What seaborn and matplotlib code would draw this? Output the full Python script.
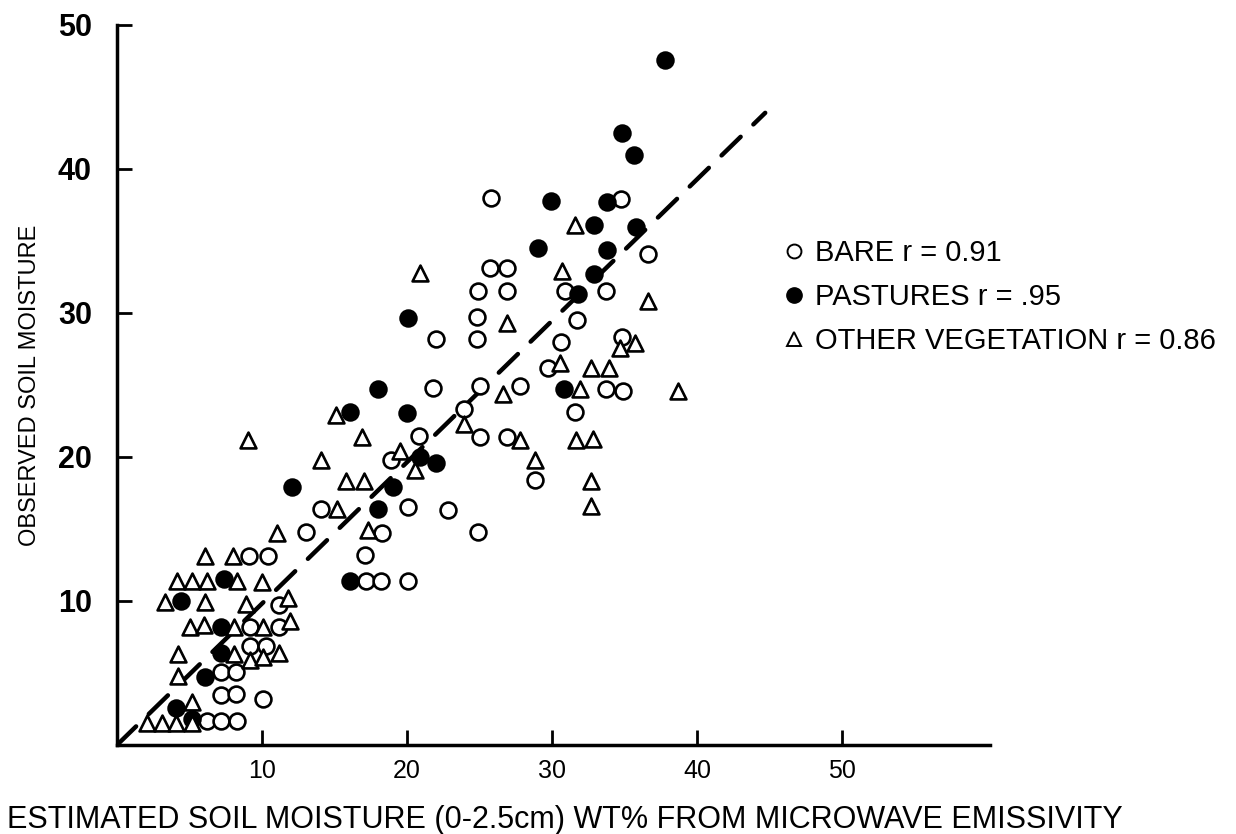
import matplotlib
matplotlib.use("Agg")
import matplotlib.pyplot as plt
import seaborn as sns
import pandas as pd
from matplotlib.lines import Line2D

# ---- data ----
bare_x = [13.0, 9.1, 10.4, 11.2, 9.2, 11.2, 9.2, 10.25, 7.15, 8.2, 7.15, 8.2, 10.1, 6.2, 7.2, 8.25,
          18.9, 14.1, 18.25, 17.1, 17.2, 18.2, 20.1, 21.8, 25.0, 27.8, 23.9, 20.8, 25.0, 26.9,
          20.1, 22.85, 24.9, 25.8, 25.7, 26.9, 24.9, 26.9, 30.9, 33.7, 24.8, 31.75, 22.0, 24.8,
          30.6, 34.8, 29.7, 33.7, 34.9, 31.6, 28.8, 36.65, 34.75]
bare_y = [14.8, 13.1, 13.1, 9.7, 8.2, 8.2, 6.9, 6.9, 5.05, 5.05, 3.45, 3.55, 3.2, 1.7, 1.7, 1.7,
          19.8, 16.4, 14.7, 13.2, 11.4, 11.4, 11.4, 24.8, 24.9, 24.9, 23.3, 21.45, 21.4, 21.4,
          16.55, 16.3, 14.8, 38.0, 33.1, 33.1, 31.5, 31.5, 31.5, 31.5, 29.7, 29.5, 28.2, 28.2,
          28.0, 28.3, 26.2, 24.7, 24.6, 23.1, 18.4, 34.1, 37.9]

past_x = [7.4, 4.4, 7.2, 7.15, 6.1, 4.07, 5.15, 18.0, 16.1, 12.05, 18.0, 19.05, 16.1, 20.0, 20.9,
          22.0, 20.1, 29.0, 33.8, 32.9, 31.8, 30.85, 37.8, 34.8, 35.65, 29.9, 33.8, 32.9, 35.8]
past_y = [11.5, 10.0, 8.2, 6.4, 4.7, 2.6, 1.8, 24.7, 23.1, 17.9, 16.4, 17.9, 11.4, 23.05, 20.0,
          19.6, 29.65, 34.5, 34.4, 32.7, 31.3, 24.7, 47.6, 42.5, 41.0, 37.75, 37.7, 36.1, 36.0]

veg_x = [11.0, 6.1, 8.0, 4.16, 5.2, 6.2, 8.3, 10.0, 3.3, 6.1, 8.9, 11.8, 5.0, 6.0, 8.1, 10.1, 11.9,
         4.2, 8.1, 9.2, 10.1, 11.2, 4.2, 5.2, 2.05, 3.1, 4.1, 5.2, 9.0, 15.1, 16.9, 14.05, 15.8,
         17.0, 15.15, 17.3, 19.5, 20.55, 23.9, 26.6, 27.8, 20.9, 30.7, 36.6, 26.9, 34.7, 35.7,
         30.55, 32.7, 33.9, 31.9, 38.7, 31.65, 32.85, 28.8, 32.7, 32.7, 31.6]
veg_y = [14.7, 13.1, 13.1, 11.4, 11.4, 11.4, 11.4, 11.3, 9.9, 9.9, 9.8, 10.2, 8.2, 8.3, 8.2, 8.2, 8.6,
         6.3, 6.3, 5.9, 6.1, 6.4, 4.8, 3.0, 1.5, 1.5, 1.5, 1.5, 21.2, 22.9, 21.4, 19.8, 18.3,
         18.3, 16.4, 14.9, 20.4, 19.1, 22.3, 24.4, 21.2, 32.8, 32.9, 30.8, 29.3, 27.6, 27.9,
         26.55, 26.2, 26.2, 24.7, 24.6, 21.2, 21.25, 19.8, 18.3, 16.6, 36.1]

fit_x = [0.0, 44.7]
fit_y = [0.0, 43.9]

legend_labels = ["BARE r = 0.91", "PASTURES r = .95", "OTHER VEGETATION r = 0.86"]
x_ticks = [10, 20, 30, 40, 50]
y_ticks = [10, 20, 30, 40, 50]
x_label = "ESTIMATED SOIL MOISTURE (0-2.5cm) WT% FROM MICROWAVE EMISSIVITY"
y_label = "OBSERVED SOIL MOISTURE"

# ---- plotting ----
sns.set_theme(style="white")
plt.rcParams.update({
    'font.family': ['Liberation Sans', 'DejaVu Sans'],
    'text.color': 'black',
    'xtick.color': 'black',
    'ytick.color': 'black',
    'axes.labelcolor': 'black',
    'xtick.bottom': True,
    'ytick.left': True,
    'xtick.direction': 'in',
    'ytick.direction': 'in',
    'xtick.major.size': 11,
    'ytick.major.size': 11,
    'xtick.major.width': 2,
    'ytick.major.width': 2,
})

fig = plt.figure(figsize=(12.36, 8.34), dpi=100)
ax = fig.add_axes([117/1236, 89/834, (990-117)/1236, (745-25)/834])

fit_df = pd.DataFrame({"x": fit_x, "y": fit_y})
sns.lineplot(data=fit_df, x="x", y="y", ax=ax, color="black", linewidth=3.2, zorder=1)
ln = ax.lines[-1]
ln.set_dashes([6, 4])
ln.set_dash_capstyle("round")

mk = dict(s=130, linewidth=1.9, edgecolor="black", zorder=3)
sns.scatterplot(x=bare_x, y=bare_y, ax=ax, marker="o", color="white", **mk)
sns.scatterplot(x=past_x, y=past_y, ax=ax, marker="o", color="black", **mk)
sns.scatterplot(x=veg_x, y=veg_y, ax=ax, marker="^", color="white", **mk)

ax.set_xlim(0, 60.2)
ax.set_ylim(0, 49.7)
ax.set_xticks(x_ticks)
ax.set_yticks(y_ticks)
ax.set_xticklabels([str(t) for t in x_ticks], fontsize=18)
ax.set_yticklabels([str(t) for t in y_ticks], fontsize=22, fontweight="bold")
ax.xaxis.set_tick_params(which="major", bottom=True, direction="in", length=11, width=2,
                         color="black", pad=10, labelcolor="black")
ax.yaxis.set_tick_params(which="major", left=True, direction="in", length=11, width=2,
                         color="black", pad=18, labelcolor="black")
for s in ["top", "right"]:
    ax.spines[s].set_visible(False)
for s in ["left", "bottom"]:
    ax.spines[s].set_linewidth(2.5)
    ax.spines[s].set_color("black")
    ax.spines[s].set_zorder(0.5)

ax.set_xlabel("")
ax.set_ylabel("")
fig.text(565/1236, 1 - 820/834, x_label, ha="center", va="center", fontsize=22)
fig.text(30/1236, 1 - 385/834, y_label, ha="center", va="center", rotation=90, fontsize=17)

handles = [
    Line2D([], [], marker="o", linestyle="none", markersize=10, markerfacecolor="white",
           markeredgecolor="black", markeredgewidth=1.4),
    Line2D([], [], marker="o", linestyle="none", markersize=11, markerfacecolor="black",
           markeredgecolor="black"),
    Line2D([], [], marker="^", linestyle="none", markersize=10, markerfacecolor="white",
           markeredgecolor="black", markeredgewidth=1.4),
]
fig.legend(handles, legend_labels, loc="upper left", bbox_to_anchor=(779/1236, 1 - 239/834),
           frameon=False, fontsize=21, handletextpad=0.25, labelspacing=0.55, handlelength=1.0,
           borderaxespad=0, borderpad=0)

fig.savefig("out.png", dpi=100)
